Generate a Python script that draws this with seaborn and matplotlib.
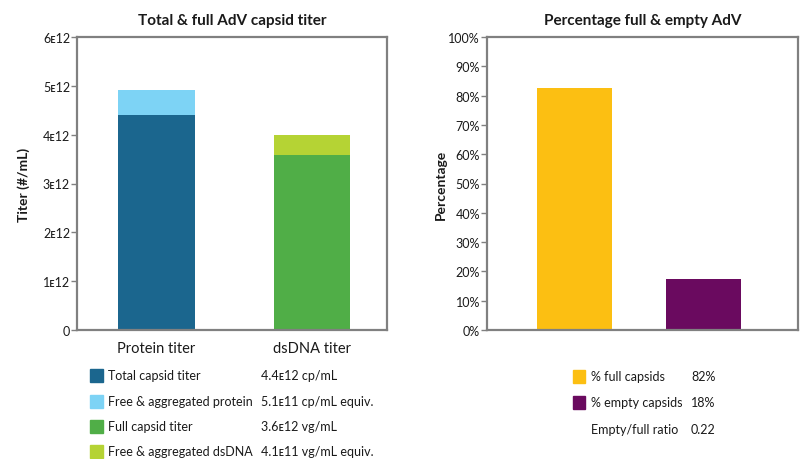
import matplotlib
matplotlib.use("Agg")
import matplotlib.pyplot as plt
import seaborn as sns
import pandas as pd
from matplotlib.patches import Rectangle

# ---- data ----
titer_categories = ["Protein titer", "dsDNA titer"]
base_values = [4.40e12, 3.58e12]          # total capsid / full capsid
extra_values = [0.51e12, 0.41e12]         # free & aggregated protein / dsDNA
base_colors = ["#1b668e", "#50ae47"]
extra_colors = ["#7dd3f5", "#b5d334"]
titer_ticks = [0, 1e12, 2e12, 3e12, 4e12, 5e12, 6e12]
titer_tick_labels = ["0", "1ᴇ12", "2ᴇ12", "3ᴇ12", "4ᴇ12", "5ᴇ12", "6ᴇ12"]

pct_categories = ["% full capsids", "% empty capsids"]
pct_values = [82.5, 17.4]
pct_colors = ["#fcbf12", "#6a0a5f"]
pct_ticks = [0, 10, 20, 30, 40, 50, 60, 70, 80, 90, 100]
pct_tick_labels = [f"{t}%" for t in pct_ticks]

left_legend_labels = ["Total capsid titer", "Free & aggregated protein",
                      "Full capsid titer", "Free & aggregated dsDNA"]
left_legend_values = ["4.4ᴇ12 cp/mL", "5.1ᴇ11 cp/mL equiv.",
                      "3.6ᴇ12 vg/mL", "4.1ᴇ11 vg/mL equiv."]
left_legend_colors = ["#1b668e", "#7dd3f5", "#50ae47", "#b5d334"]

right_legend_labels = ["% full capsids", "% empty capsids", "Empty/full ratio"]
right_legend_values = ["82%", "18%", "0.22"]
right_legend_colors = ["#fcbf12", "#6a0a5f", None]

# ---- style ----
sns.set_style("white")
plt.rcParams["font.family"] = ["Lato", "DejaVu Sans"]
TXT = "#1a1a1a"
SPINE = "#808080"

W, H = 800, 460
fig = plt.figure(figsize=(8, 4.6), dpi=100)

def fx(px):
    return px / W

def fy(py):
    return 1 - py / H

# ---- left chart ----
axL = fig.add_axes([fx(77), fy(331), fx(310), (331 - 38) / H])
df_tot = pd.DataFrame({"cat": titer_categories,
                       "val": [b + e for b, e in zip(base_values, extra_values)]})
df_base = pd.DataFrame({"cat": titer_categories, "val": base_values})
sns.barplot(data=df_tot, x="cat", y="val", hue="cat", palette=extra_colors,
            legend=False, width=0.49, ax=axL, saturation=1, linewidth=0)
sns.barplot(data=df_base, x="cat", y="val", hue="cat", palette=base_colors,
            legend=False, width=0.49, ax=axL, saturation=1, linewidth=0)
axL.set_xlim(-0.51, 1.48)
axL.set_ylim(0, 6e12)
axL.set_yticks(titer_ticks)
axL.set_yticklabels(titer_tick_labels)
axL.set_xlabel("")
axL.set_ylabel("Titer (#/mL)", fontsize=10, fontweight="bold", color=TXT, labelpad=9)
axL.set_title("Total & full AdV capsid titer", fontsize=11, fontweight="bold",
              color=TXT, pad=9)
axL.tick_params(axis="x", length=0, labelsize=10.5, labelcolor=TXT, pad=8)
axL.tick_params(axis="y", left=True, length=4, width=1, color=SPINE,
                labelsize=9, labelcolor=TXT, pad=1)

# ---- right chart ----
axR = fig.add_axes([fx(487), fy(331), fx(311), (331 - 38) / H])
df_pct = pd.DataFrame({"cat": pct_categories, "val": pct_values})
sns.barplot(data=df_pct, x="cat", y="val", hue="cat", palette=pct_colors,
            legend=False, width=0.58, ax=axR, saturation=1, linewidth=0)
axR.set_xlim(-0.68, 1.73)
axR.set_ylim(0, 100)
axR.set_yticks(pct_ticks)
axR.set_yticklabels(pct_tick_labels)
axR.set_xticks([])
axR.set_xlabel("")
axR.set_ylabel("Percentage", fontsize=10, fontweight="bold", color=TXT, labelpad=1)
axR.set_title("Percentage full & empty AdV", fontsize=11, fontweight="bold",
              color=TXT, pad=9)
axR.tick_params(axis="y", left=True, length=4, width=1, color=SPINE,
                labelsize=9, labelcolor=TXT, pad=1)

for ax in (axL, axR):
    for s in ax.spines.values():
        s.set_visible(True)
        s.set_color(SPINE)
        s.set_linewidth(1.6)

# ---- left legend ----
left_rows = [376, 402, 427, 452]
for y, lab, val, col in zip(left_rows, left_legend_labels, left_legend_values,
                            left_legend_colors):
    fig.patches.append(Rectangle((fx(90), fy(y + 6.5)), fx(13), 13 / H,
                                 transform=fig.transFigure, color=col))
    fig.text(fx(108), fy(y), lab, fontsize=9, color=TXT, va="center")
    fig.text(fx(261), fy(y), val, fontsize=9, color=TXT, va="center")

# ---- right legend ----
right_rows = [377, 403, 430]
for y, lab, val, col in zip(right_rows, right_legend_labels, right_legend_values,
                            right_legend_colors):
    if col is not None:
        fig.patches.append(Rectangle((fx(573), fy(y + 6.5)), fx(12), 13 / H,
                                     transform=fig.transFigure, color=col))
    fig.text(fx(591), fy(y), lab, fontsize=9, color=TXT, va="center")
    fig.text(fx(691), fy(y), val, fontsize=9, color=TXT, va="center")

fig.savefig("out.png", dpi=100, facecolor="white")
